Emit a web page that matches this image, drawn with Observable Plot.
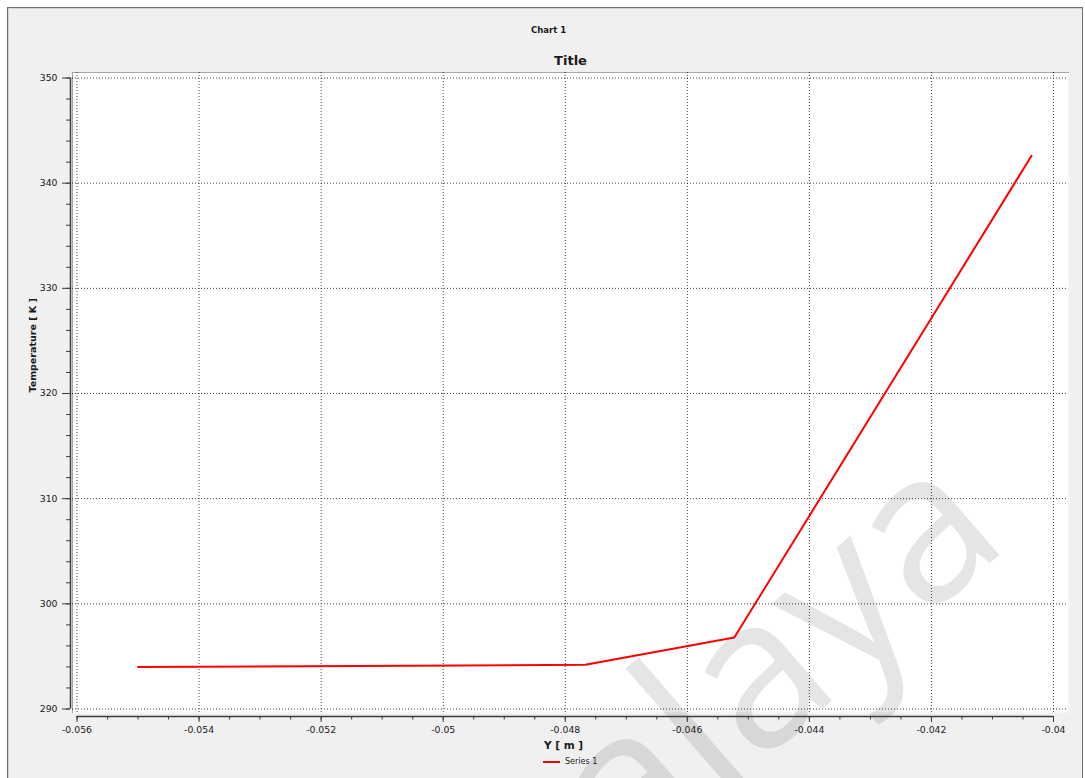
<!DOCTYPE html>
<html>
<head>
<meta charset="utf-8">
<script src="https://cdn.jsdelivr.net/npm/d3@7"></script>
<script src="https://cdn.jsdelivr.net/npm/@observablehq/plot@0.6"></script>
<style>
  html, body { margin: 0; padding: 0; background: #ffffff; }
  #wrap { position: relative; width: 1085px; height: 778px; overflow: hidden; }
  #panel {
    position: absolute; left: 7px; top: 7px; width: 1074px; height: 800px;
    background: #f0f0f0; border: 1px solid #707070;
    box-shadow: inset 1px 1px 0 #d4d4d4;
  }
  #chart { position: absolute; left: 0; top: 0; }
  #legend {
    position: absolute; left: 543px; top: 757px; display: flex; align-items: center;
    font: 8px "DejaVu Sans", Verdana, sans-serif; color: #1a1a1a;
  }
  #legend svg { margin-right: 5px; }
</style>
</head>
<body>
<div id="wrap">
  <div id="panel"></div>
  <div id="chart"></div>
  <div id="legend"></div>
</div>
<script>
// Temperature profile along Y
const positionY = [-0.055, -0.04767, -0.04523, -0.04036];
const temperatureK = [294.0, 294.2, 296.8, 342.6];
const seriesName = "Series 1";

// Axis ticks
const xTicks = [-0.056, -0.054, -0.052, -0.05, -0.048, -0.046, -0.044, -0.042, -0.04];
const yTicks = [290, 300, 310, 320, 330, 340, 350];
const xMinor = d3.range(0, 33).map(i => -0.056 + i * 0.0005);
const yMinor = d3.range(0, 31).map(i => 290 + i * 2);

const data = positionY.map((y, i) => ({pos: y, temp: temperatureK[i]}));

const ink = "#1a1a1a";
const axisInk = "#3c3c3c";
const fmt = d => String(d);
const blank = () => "";

const chart = Plot.plot({
  width: 1085,
  height: 778,
  marginLeft: 72,
  marginRight: 17,
  marginTop: 72,
  marginBottom: 66,
  style: {background: "transparent", fontFamily: "'DejaVu Sans', Verdana, sans-serif", overflow: "visible"},
  x: {domain: [xTicks[0], xTicks[xTicks.length - 1]], range: [76.5, 1053]},
  y: {domain: [yTicks[0], yTicks[yTicks.length - 1]], range: [708.5, 77.5]},
  marks: [
    // plotting area
    Plot.frame({fill: "white", stroke: null}),
    Plot.frame({anchor: "top", stroke: "#a6a6a6"}),
    Plot.frame({anchor: "left", stroke: "#a6a6a6"}),
    // dotted grid
    Plot.gridX(xTicks, {stroke: "#000", strokeOpacity: 0.75, strokeDasharray: "1,2"}),
    Plot.gridY(yTicks, {stroke: "#000", strokeOpacity: 0.75, strokeDasharray: "1,2"}),
    // watermark
    Plot.text(["alaya"], {
      text: d => d, frameAnchor: "top-left", dx: 748, dy: 638, rotate: -41,
      fontSize: 210, fontWeight: 500, fontFamily: "'Open Sans', 'DejaVu Sans', sans-serif",
      fill: "#000", fillOpacity: 0.1, textAnchor: "middle", lineAnchor: "bottom",
      letterSpacing: "-0.05em"
    }),
    // axis lines
    Plot.ruleY([yTicks[0]], {x1: xTicks[0], x2: xTicks[xTicks.length - 1], dy: 7.5, stroke: axisInk, strokeWidth: 1.5}),
    Plot.ruleX([xTicks[0]], {y1: yTicks[0], y2: yTicks[yTicks.length - 1], dx: -6.5, stroke: axisInk, strokeWidth: 1.5}),
    // x ticks
    Plot.axisX({ticks: xMinor, anchor: "bottom", tickSize: 3.5, tickFormat: blank, dy: 4, stroke: axisInk, label: null}),
    Plot.axisX({ticks: xTicks, anchor: "bottom", tickSize: 6, tickPadding: 4, tickFormat: fmt, dy: 4,
      stroke: axisInk, fill: ink, fontSize: 9.3, label: null}),
    // y ticks
    Plot.axisY({ticks: yMinor, anchor: "left", tickSize: 4, tickFormat: blank, dx: -2, stroke: axisInk, label: null}),
    Plot.axisY({ticks: yTicks, anchor: "left", tickSize: 8, tickPadding: 5, tickFormat: fmt, dx: -2,
      stroke: axisInk, fill: ink, fontSize: 9.3, label: null}),
    // series
    Plot.line(data, {x: "pos", y: "temp", stroke: "#ff0000", strokeWidth: 2}),
    // titles
    Plot.text(["Chart 1"], {text: d => d, frameAnchor: "top", dx: -22, dy: -42, fontSize: 8.5, fontWeight: "bold", fill: ink, lineAnchor: "middle"}),
    Plot.text(["Title"], {text: d => d, frameAnchor: "top", dy: -12, fontSize: 13, fontWeight: "bold", fill: ink, lineAnchor: "middle"}),
    Plot.text(["Y [ m ]"], {text: d => d, frameAnchor: "bottom", dx: -7, dy: 33, fontSize: 10.5, fontWeight: "bold", fill: ink, lineAnchor: "middle"}),
    Plot.text(["Temperature [ K ]"], {text: d => d, frameAnchor: "left", dx: -40, rotate: -90, fontSize: 9.5, fontWeight: "bold", fill: ink, lineAnchor: "middle"})
  ]
});
document.getElementById("chart").append(chart);

// legend entry
const legend = document.getElementById("legend");
legend.innerHTML = `<svg width="17" height="6"><line x1="0" x2="17" y1="3" y2="3" stroke="#ff0000" stroke-width="2"/></svg><span>${seriesName}</span>`;
</script>
</body>
</html>
